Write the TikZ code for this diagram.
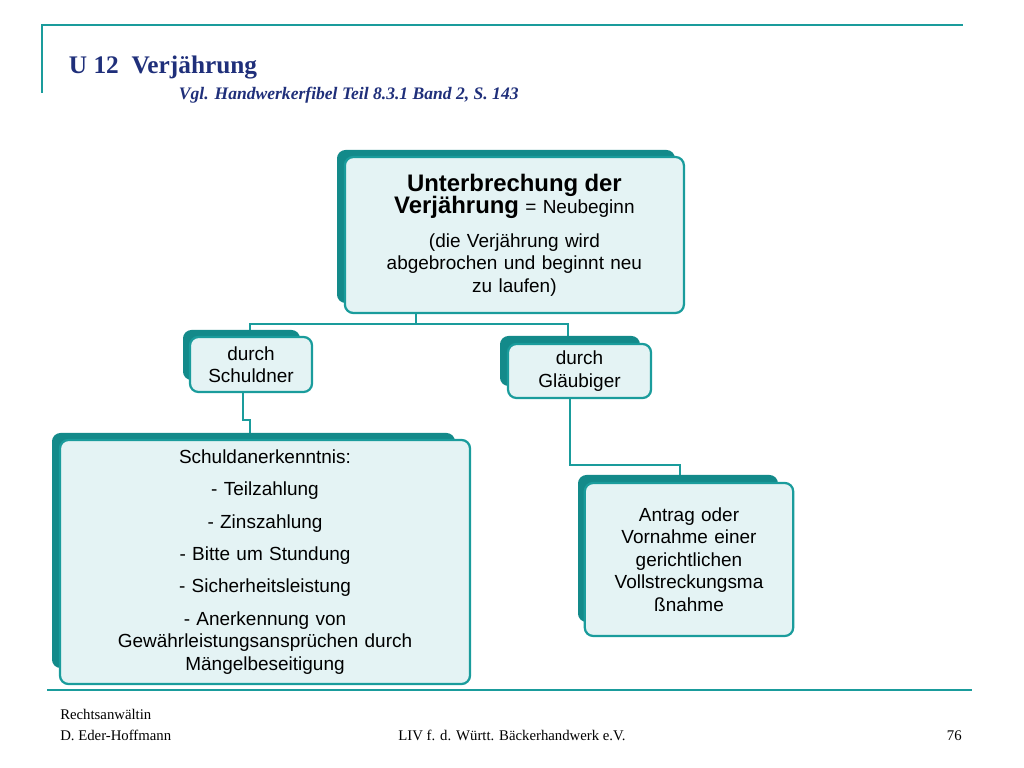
\documentclass[tikz,border=0pt]{standalone}
\usepackage{fontspec}
\setmainfont{Liberation Serif}
\setsansfont{Liberation Sans}
\usetikzlibrary{positioning}
\definecolor{tealline}{HTML}{1A9C9C}
\definecolor{tealback}{HTML}{138A8A}
\definecolor{panelfill}{HTML}{E4F3F4}
\definecolor{titleblue}{HTML}{1F2F7A}
\tikzset{
  panel/.style={draw=tealline, line width=1.6pt, fill=panelfill, rounded corners=6pt,
    align=center, font=\sffamily\fontsize{13.5}{16}\selectfont, inner sep=3pt},
  backpanel/.style={fill=tealback, rounded corners=6pt},
  link/.style={draw=tealline, line width=1.3pt}
}
\begin{document}
\begin{tikzpicture}
    \useasboundingbox (0,0) rectangle (25.6,19.2);
    % header and footer
    \draw[tealline, line width=1.2pt] (1.05,16.875) -- (1.05,18.575) -- (24.075,18.575);
    \draw[tealline, line width=1.2pt] (1.175,1.95) -- (24.3,1.95);
    \node[anchor=base west, text=titleblue, font=\bfseries\fontsize{18}{20}\selectfont] (title) at (1.6,17.35) {U 12\ \ Verjährung};
    \node[anchor=base west, text=titleblue, font=\bfseries\itshape\fontsize{12.5}{14}\selectfont] (subtitle) at (4.35,16.7) {Vgl. Handwerkerfibel Teil 8.3.1 Band 2, S. 143};
    \node[anchor=base west, font=\fontsize{10.5}{12}\selectfont, align=left, inner sep=0pt] (author) at (1.5,1.2) {Rechtsanwältin};
    \node[anchor=base west, font=\fontsize{10.5}{12}\selectfont, inner sep=0pt] (author2) at (1.5,0.675) {D. Eder-Hoffmann};
    \node[anchor=base, font=\fontsize{10.5}{12}\selectfont, inner sep=0pt] (org) at (12.8,0.675) {LIV f. d. Württ. Bäckerhandwerk e.V.};
    \node[anchor=base east, font=\fontsize{10.5}{12}\selectfont, inner sep=0pt] (page) at (24.05,0.675) {76};

    % connectors
    \coordinate (split) at (10.4,11.1);
    \coordinate (schuldTop) at (6.25,10.95);
    \coordinate (glaeubTop) at (14.2,10.8);
    \draw[link] (10.4,11.375) -- (split) -| (schuldTop);
    \draw[link] (split) -| (glaeubTop);
    \draw[link] (6.075,9.4) -- (6.075,8.7) -| (6.25,8.375);
    \draw[link] (14.25,9.25) -- (14.25,7.575) -| (17.0,7.325);

    % panels
    \fill[backpanel] (8.425,11.625) rectangle (16.875,15.45);
    \node[panel, minimum width=8.475cm, minimum height=3.9cm, text width=8.2cm] (top) at (12.86,13.325)
      {{\fontsize{17}{22}\selectfont\textbf{Unterbrechung der}\\\textbf{Verjährung} {\fontsize{13.5}{16}\selectfont= Neubeginn}}\\[8pt](die Verjährung wird\\abgebrochen und beginnt neu\\zu laufen)\\[-4pt]};
    \fill[backpanel] (4.575,9.7) rectangle (7.5,10.95);
    \node[panel, minimum width=3.05cm, minimum height=1.375cm, text width=2.8cm] (schuldner) at (6.275,10.0875) {durch\\Schuldner};
    \fill[backpanel] (12.5,9.55) rectangle (16.0,10.8);
    \node[panel, minimum width=3.575cm, minimum height=1.35cm, text width=3.3cm] (glaeubiger) at (14.4875,9.925) {durch\\Gläubiger};
    \fill[backpanel] (1.3,2.5) rectangle (11.375,8.375);
    \node[panel, minimum width=10.25cm, minimum height=6.1cm, text width=10cm,
      font=\sffamily\fontsize{13.5}{23}\selectfont] (anerkenntnis) at (6.625,5.15)
      {Schuldanerkenntnis:\\- Teilzahlung\\- Zinszahlung\\- Bitte um Stundung\\- Sicherheitsleistung\\- Anerkennung von\\[-7pt]Gewährleistungsansprüchen durch\\[-7pt]Mängelbeseitigung};
    \fill[backpanel] (14.45,3.65) rectangle (19.45,7.325);
    \node[panel, minimum width=5.1cm, minimum height=3.825cm, text width=5cm] (antrag) at (17.225,5.2125)
      {Antrag oder\\Vornahme einer\\gerichtlichen\\Vollstreckungsma\\ßnahme\\[12pt]};
\end{tikzpicture}
\end{document}
